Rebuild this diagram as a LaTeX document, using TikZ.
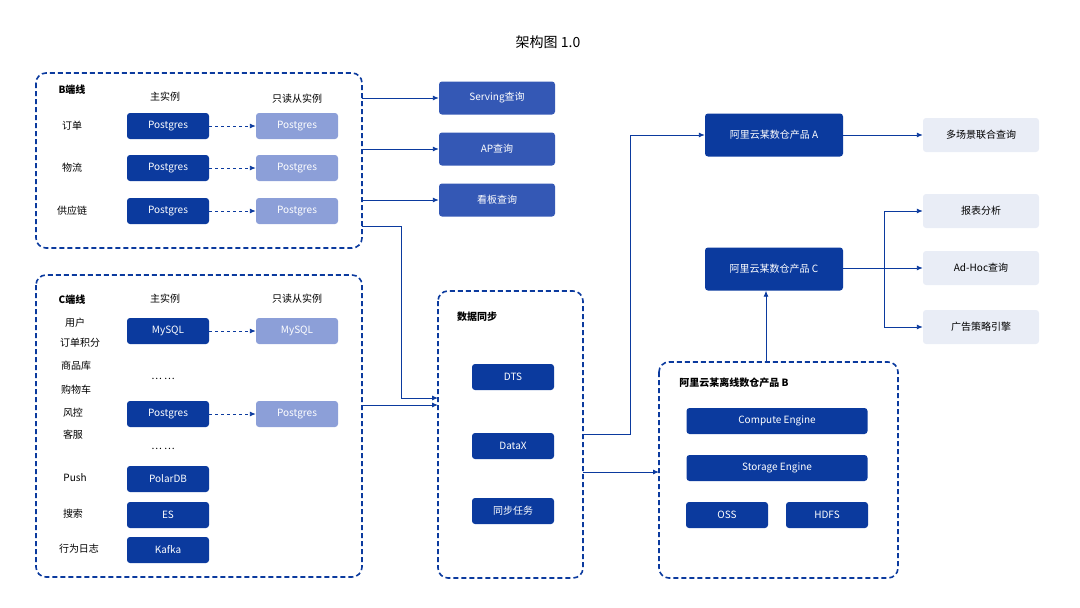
\documentclass[tikz,border=0pt]{standalone}
\usepackage{fontspec}
\setmainfont{Noto Sans CJK SC}
\usetikzlibrary{positioning,calc,arrows.meta}
\definecolor{deepblue}{HTML}{0B3A9E}
\definecolor{midblue}{HTML}{3458B5}
\definecolor{lightblue}{HTML}{8C9FD8}
\definecolor{paleblue}{HTML}{E9EDF6}
\tikzset{
  dark/.style={rounded corners=3pt,fill=deepblue,text=white,minimum width=82pt,minimum height=26pt,inner sep=0pt,font=\fontsize{10}{12}\selectfont},
  repl/.style={dark,fill=lightblue},
  query/.style={dark,fill=midblue,minimum width=116pt,minimum height=33pt},
  product/.style={dark,minimum width=138pt,minimum height=43pt},
  pale/.style={dark,fill=paleblue,text=black,minimum width=116pt,minimum height=34pt},
  engine/.style={dark,minimum width=181pt},
  group/.style={draw=deepblue,line width=1.6pt,dash pattern=on 5pt off 3pt,rounded corners=10pt},
  lbl/.style={font=\fontsize{10}{12}\selectfont},
  head/.style={font=\fontsize{10}{12}\selectfont\bfseries},
  link/.style={draw=deepblue,line width=0.9pt,-{Latex[length=6pt,width=5pt]}},
  copy/.style={link,dashed}
}
\begin{document}
\begin{tikzpicture}[x=1pt,y=-1pt]
  \useasboundingbox (0,0) rectangle (1080,608);
  \node[font=\fontsize{14}{16}\selectfont] (title) at (548,42) {架构图 1.0};

  % B side
  \draw[group] (36,73) rectangle (362,248);
  \coordinate (bR1) at (362,98);
  \coordinate (bR2) at (362,149);
  \coordinate (bR3) at (362,200);
  \coordinate (bR4) at (362,226);
  \node[head] (bhead) at (72,90) {B端线};
  \node[lbl] (bmain) at (165,97) {主实例};
  \node[lbl] (brepl) at (297,99) {只读从实例};
  \foreach \name/\txt/\y in {order/订单/126, logis/物流/168, supply/供应链/211} {
    \node[lbl] (\name lbl) at (72,\y) {\txt};
    \node[dark] (\name m) at (168,\y) {Postgres};
    \node[repl] (\name r) at (297,\y) {Postgres};
    \draw[copy] (\name m) -- (\name r);
  }

  % queries
  \node[query] (serving) at (497,98) {Serving查询};
  \node[query] (ap) at (497,149) {AP查询};
  \node[query] (board) at (497,200) {看板查询};
  \draw[link] (bR1) -- (serving);
  \draw[link] (bR2) -- (ap);
  \draw[link] (bR3) -- (board);

  % C side
  \draw[group] (36,275) rectangle (362,577);
  \coordinate (cR) at (362,405);
  \node[head] (chead) at (72,300) {C端线};
  \node[lbl] (cmain) at (165,299) {主实例};
  \node[lbl] (crepl) at (297,299) {只读从实例};
  \foreach \name/\txt/\x/\y in {user/用户/75/323, points/订单积分/80/343, goods/商品库/76/366,
      cart/购物车/76/390, risk/风控/73/413, service/客服/73/435, push/Push/75/478,
      search/搜索/73/514, log/行为日志/79/549}
    \node[lbl] (\name) at (\x,\y) {\txt};
  \node[dark] (mysqlm) at (168,331) {MySQL};
  \node[repl] (mysqlr) at (297,331) {MySQL};
  \draw[copy] (mysqlm) -- (mysqlr);
  \node[lbl] (dots1) at (163,379) {… …};
  \node[dark] (pgm) at (168,414) {Postgres};
  \node[repl] (pgr) at (297,414) {Postgres};
  \draw[copy] (pgm) -- (pgr);
  \node[lbl] (dots2) at (163,449) {… …};
  \node[dark] (polar) at (168,479) {PolarDB};
  \node[dark] (es) at (168,515) {ES};
  \node[dark] (kafka) at (168,550) {Kafka};

  % sync
  \draw[group] (438,291) rectangle (583,578);
  \coordinate (syncIn1) at (438,398);
  \coordinate (syncIn2) at (438,405);
  \coordinate (syncOut1) at (583,434);
  \coordinate (syncOut2) at (583,472);
  \node[head] (synchead) at (477,317) {数据同步};
  \node[dark] (dts) at (513,377) {DTS};
  \node[dark] (datax) at (513,446) {DataX};
  \node[dark] (task) at (513,511) {同步任务};
  \draw[link] (bR4) -| (401,398) -- (syncIn1);
  \draw[link] (cR) -- (syncIn2);

  % products
  \node[product] (prodA) at (774,135) {阿里云某数仓产品 A};
  \node[product] (prodC) at (774,269) {阿里云某数仓产品 C};
  \node[pale] (multi) at (981,135) {多场景联合查询};
  \node[pale] (report) at (981,211) {报表分析};
  \node[pale] (adhoc) at (981,268) {Ad-Hoc查询};
  \node[pale] (ads) at (981,327) {广告策略引擎};
  \draw[link] (syncOut1) -| (630,135) -- (prodA);
  \draw[link] (prodA) -- (multi);
  \draw[link] (prodC.east |- adhoc) -- (adhoc);
  \draw[link] (884,268) |- (report);
  \draw[link] (884,268) |- (ads);

  % offline B
  \draw[group] (659,362) rectangle (898,578);
  \coordinate (offTop) at (766,362);
  \coordinate (offIn) at (659,472);
  \node[head] (offhead) at (734,383) {阿里云某离线数仓产品 B};
  \node[engine] (compute) at (777,421) {Compute Engine};
  \node[engine] (storage) at (777,468) {Storage Engine};
  \node[dark] (oss) at (727,515) {OSS};
  \node[dark] (hdfs) at (827,515) {HDFS};
  \draw[link] (syncOut2) -- (offIn);
  \draw[link] (offTop) -- (prodC.south -| offTop);
\end{tikzpicture}
\end{document}
